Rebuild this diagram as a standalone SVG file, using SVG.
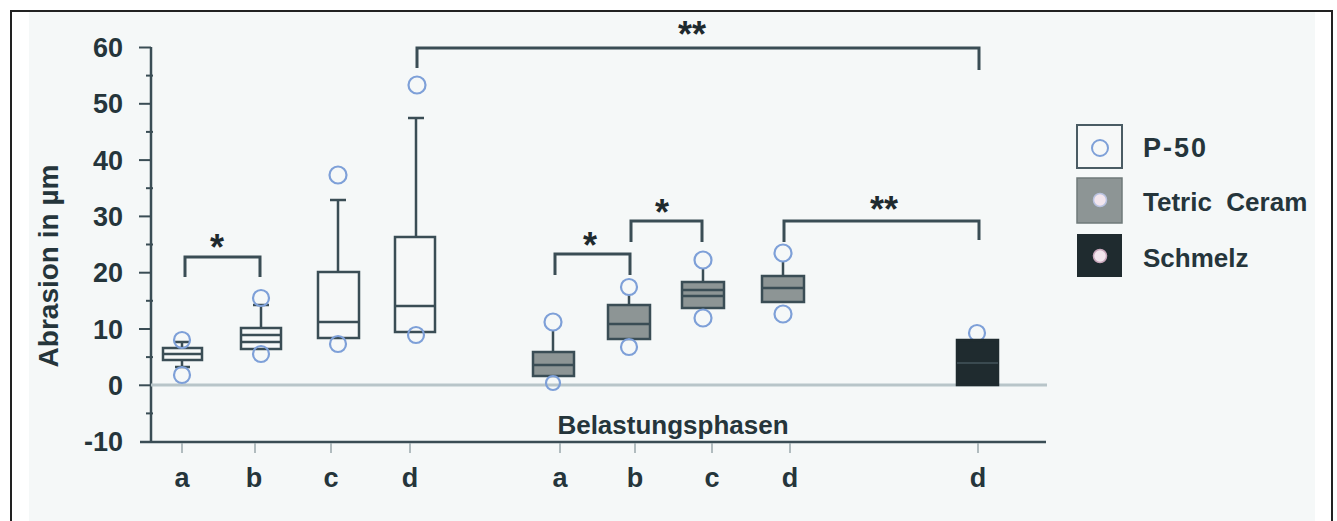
<svg xmlns="http://www.w3.org/2000/svg" width="1337" height="521" viewBox="0 0 1337 521">
<defs>
<style>
.t{font-family:"Liberation Sans",Arial,sans-serif;font-weight:bold;fill:#25353b;}
.ax{stroke:#3a4d55;stroke-width:2.5;fill:none;}
.tk{stroke:#3a4d55;stroke-width:2;}
.xt{stroke:#9aa8ad;stroke-width:1.5;}
.ln{stroke:#3a4d55;stroke-width:2.5;fill:none;}
.bx1{fill:#f6f8f8;stroke:#3a4d55;stroke-width:2.5;}
.bx2{fill:#8d9595;stroke:#3a4d55;stroke-width:2.5;}
.bx3{fill:#1f2b2f;stroke:#1f2b2f;stroke-width:2.5;}
.md{stroke:#3a4d55;stroke-width:2.5;}
.o{fill:none;stroke:#7ea0d8;stroke-width:2.2;}
.br{stroke:#3a4d55;stroke-width:3;fill:none;}
.st{font-family:"Liberation Sans",Arial,sans-serif;font-weight:bold;font-size:36px;fill:#1e2a2e;text-anchor:middle;}
</style>
</defs>
<rect x="0" y="0" width="1337" height="521" fill="#ffffff"/>
<rect x="29" y="12" width="1286" height="509" fill="#f5f8f8"/>
<path d="M11 521 V11 H1332 V521" fill="none" stroke="#222" stroke-width="2"/>

<g id="axes">
<line x1="151" y1="47" x2="151" y2="442" class="ax"/>
<line x1="140" y1="442" x2="1046" y2="442" class="ax"/>
<line x1="151" y1="385" x2="1047" y2="385" stroke="#b8c5c9" stroke-width="3"/>
<g class="tk">
<line x1="139" y1="47.5" x2="151" y2="47.5"/>
<line x1="139" y1="103.8" x2="151" y2="103.8"/>
<line x1="139" y1="160.1" x2="151" y2="160.1"/>
<line x1="139" y1="216.4" x2="151" y2="216.4"/>
<line x1="139" y1="272.7" x2="151" y2="272.7"/>
<line x1="139" y1="329" x2="151" y2="329"/>
<line x1="139" y1="385.3" x2="151" y2="385.3"/>
<line x1="146" y1="75.6" x2="153" y2="75.6"/>
<line x1="146" y1="131.9" x2="153" y2="131.9"/>
<line x1="146" y1="188.2" x2="153" y2="188.2"/>
<line x1="146" y1="244.5" x2="153" y2="244.5"/>
<line x1="146" y1="300.8" x2="153" y2="300.8"/>
<line x1="146" y1="357.1" x2="153" y2="357.1"/>
<line x1="146" y1="413.4" x2="153" y2="413.4"/>
</g>
<g class="xt">
<line x1="182" y1="443" x2="182" y2="453"/>
<line x1="255" y1="443" x2="255" y2="453"/>
<line x1="331" y1="443" x2="331" y2="453"/>
<line x1="410" y1="443" x2="410" y2="453"/>
<line x1="560" y1="443" x2="560" y2="453"/>
<line x1="635" y1="443" x2="635" y2="453"/>
<line x1="712" y1="443" x2="712" y2="453"/>
<line x1="790" y1="443" x2="790" y2="453"/>
<line x1="978" y1="443" x2="978" y2="453"/>
</g>
<g class="t" font-size="27" text-anchor="end">
<text x="123" y="57">60</text>
<text x="123" y="113">50</text>
<text x="123" y="170">40</text>
<text x="123" y="226">30</text>
<text x="123" y="282">20</text>
<text x="123" y="339">10</text>
<text x="123" y="395">0</text>
<text x="123" y="451">-10</text>
</g>
<g class="t" font-size="27" text-anchor="middle">
<text x="182" y="487">a</text>
<text x="254" y="487">b</text>
<text x="331" y="487">c</text>
<text x="410" y="487">d</text>
<text x="560" y="487">a</text>
<text x="635" y="487">b</text>
<text x="712" y="487">c</text>
<text x="790" y="487">d</text>
<text x="978" y="487">d</text>
</g>
<text class="t" x="673" y="434" font-size="26" text-anchor="middle">Belastungsphasen</text>
<text class="t" transform="translate(58 266) rotate(-90)" font-size="28" text-anchor="middle">Abrasion in µm</text>
</g>

<g id="p50-a">
<line x1="182" y1="342" x2="182" y2="367" class="ln"/>
<line x1="175" y1="342" x2="190" y2="342" class="ln"/>
<line x1="175" y1="367" x2="190" y2="367" class="ln"/>
<rect x="163" y="348" width="39" height="12" class="bx1"/>
<line x1="163" y1="354" x2="202" y2="354" class="md"/>
<circle cx="182" cy="340" r="8" class="o"/>
<circle cx="182" cy="375" r="8" class="o"/>
</g>
<g id="p50-b">
<line x1="261" y1="305" x2="261" y2="328" class="ln"/>
<line x1="253" y1="305" x2="269" y2="305" class="ln"/>
<rect x="241" y="328" width="40" height="21" class="bx1"/>
<line x1="241" y1="335" x2="281" y2="335" class="md"/>
<line x1="241" y1="342" x2="281" y2="342" class="md"/>
<circle cx="261" cy="298" r="8" class="o"/>
<circle cx="261" cy="354" r="8" class="o"/>
</g>
<g id="p50-c">
<line x1="338" y1="200" x2="338" y2="272" class="ln"/>
<line x1="330" y1="200" x2="346" y2="200" class="ln"/>
<rect x="318" y="272" width="41" height="66" class="bx1"/>
<line x1="318" y1="322" x2="359" y2="322" class="md"/>
<circle cx="338" cy="175" r="8.5" class="o"/>
<circle cx="338" cy="344" r="8" class="o"/>
</g>
<g id="p50-d">
<line x1="416" y1="118" x2="416" y2="237" class="ln"/>
<line x1="408" y1="118" x2="424" y2="118" class="ln"/>
<rect x="395" y="237" width="40" height="95" class="bx1"/>
<line x1="395" y1="306" x2="435" y2="306" class="md"/>
<circle cx="417" cy="85" r="8.5" class="o"/>
<circle cx="416" cy="335" r="8" class="o"/>
</g>

<g id="tc-a">
<line x1="553" y1="330" x2="553" y2="352" class="ln"/>
<rect x="533" y="352" width="41" height="24" class="bx2"/>
<line x1="533" y1="365" x2="574" y2="365" class="md"/>
<circle cx="553" cy="322" r="8.5" class="o"/>
<circle cx="553" cy="383" r="7" class="o"/>
</g>
<g id="tc-b">
<line x1="629" y1="295" x2="629" y2="305" class="ln"/>
<rect x="608" y="305" width="42" height="34" class="bx2"/>
<line x1="608" y1="324" x2="650" y2="324" class="md"/>
<circle cx="629" cy="287" r="8" class="o"/>
<circle cx="629" cy="347" r="8" class="o"/>
</g>
<g id="tc-c">
<line x1="703" y1="268" x2="703" y2="282" class="ln"/>
<rect x="682" y="282" width="42" height="26" class="bx2"/>
<line x1="682" y1="290" x2="724" y2="290" class="md" stroke-width="1.5"/>
<line x1="682" y1="296" x2="724" y2="296" class="md"/>
<circle cx="703" cy="260" r="8.5" class="o"/>
<circle cx="703" cy="318" r="8.5" class="o"/>
</g>
<g id="tc-d">
<line x1="783" y1="261" x2="783" y2="276" class="ln"/>
<rect x="762" y="276" width="42" height="26" class="bx2"/>
<line x1="762" y1="288" x2="804" y2="288" class="md"/>
<circle cx="783" cy="253" r="8.5" class="o"/>
<circle cx="783" cy="314" r="8.5" class="o"/>
</g>
<g id="schmelz-d">
<circle cx="977" cy="333" r="8" class="o" stroke="#8ea6c8"/>
<rect x="957" y="340" width="41" height="45" class="bx3"/>
<line x1="957" y1="363" x2="998" y2="363" stroke="#3a4a50" stroke-width="2"/>
</g>

<g id="connectors">
<path d="M185 277 V257 H260 V277" class="br"/>
<path d="M555 275 V254 H630 V275" class="br"/>
<path d="M631 242 V221 H702 V242" class="br"/>
<path d="M784 242 V221 H979 V240" class="br"/>
<path d="M417 68 V48 H979 V70" class="br"/>
<text class="st" x="217" y="260">*</text>
<text class="st" x="590" y="258">*</text>
<text class="st" x="662" y="225">*</text>
<text class="st" x="884" y="222">**</text>
<text class="st" x="692" y="47">**</text>
</g>

<g id="legend">
<g id="legend-p50">
<rect x="1077" y="125" width="45" height="43" fill="#f6f8f8" stroke="#4a5c64" stroke-width="2"/>
<circle cx="1100" cy="148" r="8" fill="none" stroke="#7ea0d8" stroke-width="2"/>
<text class="t" x="1143" y="157" font-size="27" textLength="63">P-50</text>
</g>
<g id="legend-tc">
<rect x="1077" y="178" width="45" height="45" fill="#8d9595" stroke="#6f7a7a" stroke-width="1.5"/>
<circle cx="1100" cy="200" r="6.5" fill="#f3e6ee" stroke="#b9c2e0" stroke-width="1.5"/>
<text class="t" x="1143" y="211" font-size="26" xml:space="preserve">Tetric  Ceram</text>
</g>
<g id="legend-schmelz">
<rect x="1077" y="234" width="45" height="43" fill="#1f2b2f"/>
<circle cx="1100" cy="256" r="6.5" fill="#f3e6ee" stroke="#c9a8bc" stroke-width="1.5"/>
<text class="t" x="1143" y="267" font-size="26">Schmelz</text>
</g>
</g>
</svg>
